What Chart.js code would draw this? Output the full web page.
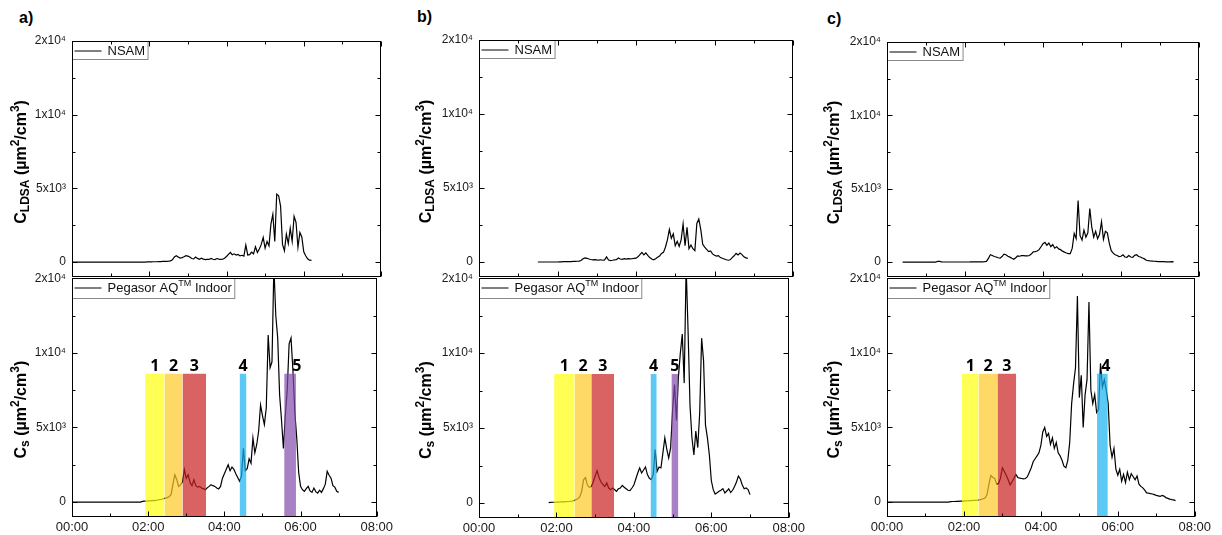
<!DOCTYPE html>
<html>
<head>
<meta charset="utf-8">
<script src="https://cdn.jsdelivr.net/npm/chart.js@4.4.0/dist/chart.umd.min.js"></script>
<style>
  body { margin: 0; background: #fff; width: 1222px; height: 535px; position: relative; overflow: hidden; }
  canvas { position: absolute; }
  .tag { position: absolute; font: bold 16px "Liberation Sans", Arial, sans-serif; line-height: 16px; color: #000; }
</style>
</head>
<body>
<div class="tag" style="left:19px;top:10px">a)</div>
<div class="tag" style="left:417px;top:9px">b)</div>
<div class="tag" style="left:827px;top:11px">c)</div>
<canvas id="aTop"></canvas><canvas id="aBot"></canvas>
<canvas id="bTop"></canvas><canvas id="bBot"></canvas>
<canvas id="cTop"></canvas><canvas id="cBot"></canvas>
<script>
// one value every 3 minutes (hours), values in units of 100 µm²/cm³
const step = 0.05;

// a) NSAM
const aTopStart = 0;
const aTopV = [0,0,0,0,0,0,0,0,0,0, 0,0,0,0,0,0,0,0,0,0, 0,0,0,0,0,0,0,0,0,0, 0,0,0,0,0,0,0,0,0,
  0.1,0.1,0.1,0.2,0.2,0.2,0.3,0.3,0.4,0.4,0.5,0.6,0.8,1.5,3.5,4.3,3.5,2.7,3.0,3.6,4.3,4.0,3.4,2.4,2.2,3.4,
  2.5,1.9,2.6,2.0,1.7,1.8,1.8,2.5,1.9,1.7,2.4,2.0,1.8,1.9,2.6,3.8,5.2,6.5,5.0,5.6,4.8,5.2,4.2,4.6,4.0,11.5,
  4.8,5.0,6.8,5.6,10.4,6.5,8.8,12.0,16.7,9.5,14.0,11.0,25.7,32.4,14.0,46.0,45.0,38.0,12.0,7.6,19.0,12.5,23.0,
  14.0,31.0,27.0,10.0,20.0,17.0,7.0,4.3,2.2,1.3,1.2];
// a) Pegasor
const aBotStart = 0;
const aBotV = [0,0,0,0,0,0,0,0,0,0, 0,0,0,0,0,0,0,0,0,0, 0,0,0,0,0,0,0,0,0,0, 0,0,0,0,0,0,0,
  0.5,0.6,0.7,0.8,0.8,1.0,1.0,1.2,1.4,1.6,1.8,2.2,2.6,3.0,3.6,5.0,12.0,18.4,15.0,10.5,11.5,13.5,21.8,16.0,18.4,
  13.0,11.0,15.0,11.0,10.0,10.5,9.4,9.0,8.3,9.5,10.5,11.7,11.0,10.5,9.4,8.8,10.5,16.0,19.0,22.0,25.0,21.0,23.5,
  22.0,19.0,16.5,14.0,17.5,36.0,21.0,22.5,29.0,26.0,43.0,33.0,38.6,47.6,65.0,58.0,52.0,63.0,112.0,90.0,94.0,
  158.0,125.0,110.0,72.0,55.0,36.0,58.0,75.0,106.0,110.0,88.0,60.0,43.0,20.0,10.5,8.3,7.2,9.0,10.5,7.5,6.5,
  9.4,7.0,6.0,8.0,6.5,9.0,12.0,20.6,18.0,16.0,11.0,10.0,7.2,6.5];

// b) NSAM
const bTopStart = 1.5;
const bTopV = [0,0,0,0,0,0,0,0,0,0,0,
  0.1,0.1,0.2,0.2,0.3,0.3,0.3,0.4,0.4,0.5,0.6,1.0,2.2,2.8,2.5,2.0,1.7,1.5,1.6,1.4,1.3,1.5,1.2,1.4,3.4,1.3,1.0,
  1.2,1.5,1.6,2.7,2.0,1.8,2.2,1.9,2.3,2.1,2.2,2.4,2.6,3.5,5.0,6.5,4.8,6.2,4.5,3.0,2.0,1.5,2.2,3.2,4.0,5.8,6.5,
  10.0,15.0,22.0,16.0,19.0,11.0,14.0,10.5,15.0,25.7,11.0,23.4,9.0,11.5,9.0,7.7,26.0,29.0,22.0,12.0,10.0,8.5,
  7.0,7.5,5.5,4.5,4.0,4.3,3.0,2.5,2.0,1.5,1.2,1.5,3.0,4.2,5.8,4.8,6.0,5.0,3.5,2.8,2.5];
// b) Pegasor
const bBotStart = 1.8;
const bBotV = [0.3,0.4,0.5,0.5,0.6,0.6,0.7,0.7,0.8,0.9,1.0,1.1,1.3,1.6,2.2,2.8,4.0,7.5,15.5,17.0,12.0,10.5,
  11.0,14.0,18.0,21.6,17.0,14.0,12.5,11.0,13.4,10.0,8.9,10.0,9.0,7.8,9.5,10.0,11.8,10.5,9.5,8.5,8.3,10.0,12.0,
  16.0,20.0,23.4,20.0,22.0,24.0,19.0,16.5,15.6,19.0,35.7,21.0,24.0,23.4,33.5,43.5,36.0,30.0,37.0,62.0,79.0,
  55.0,84.0,100.0,112.7,80.0,158.0,115.0,65.0,43.5,32.0,48.0,37.0,60.0,110.0,95.0,52.0,43.5,32.0,15.0,8.9,
  6.0,6.8,7.8,8.5,9.6,6.7,8.0,9.5,7.0,8.5,11.0,14.0,17.9,16.0,12.0,9.5,10.0,9.0,5.6];

// c) NSAM
const cTopStart = 0.4;
const cTopV = [0,0,0,0,0,0,0,0,0,0,0,0,0,0,0,0,0,0,
  0.6,0.5,0.2,0.1,0.1,0.1,0.1,0.1,0.1,0.1,0.1,0.1,0.1,0.1,0.1,0.1,0.1,0.2,0.2,0.2,0.2,0.2,0.2,0.2,
  0.3,0.5,2.5,5.0,4.5,3.8,3.5,3.0,2.7,3.8,5.4,5.0,4.0,3.4,2.6,2.0,3.0,4.2,4.0,4.4,4.4,4.2,4.3,4.5,5.5,7.0,
  7.2,7.6,8.5,10.5,12.5,13.5,11.5,13.0,10.5,12.0,9.5,10.5,9.0,8.5,7.5,6.8,6.2,5.8,5.8,9.5,19.6,16.0,42.0,
  18.0,15.0,21.8,17.0,20.0,36.5,24.0,17.0,21.0,16.0,19.0,27.5,15.5,21.0,20.0,12.8,7.8,6.1,5.0,4.5,3.8,4.0,
  5.0,3.5,3.3,4.5,3.5,3.2,4.6,5.0,3.8,3.5,2.8,2.2,1.3,1.0,0.8,0.7,0.6,0.5,0.4,0.4,0.3,0.3,0.2,0.2,0.2,0.3,0.2];
// c) Pegasor
const cBotStart = 0;
const cBotV = [0,0,0,0,0,0,0,0,0,0, 0,0,0,0,0,0,0,0,0,0, 0,0,0,0,0,0,0,0,0,0, 0,0,0,
  0.3,0.4,0.4,0.5,0.5,0.6,0.6,0.7,0.8,0.9,1.0,1.0,1.1,1.2,1.3,1.5,1.8,2.2,2.7,5.0,12.0,17.8,16.5,16.0,12.0,
  12.5,16.0,23.0,20.5,18.0,15.0,11.5,13.5,16.0,18.5,16.5,16.0,15.8,15.6,15.8,17.0,20.0,23.0,27.0,29.0,31.0,
  33.0,38.0,47.0,50.0,44.0,46.0,38.7,43.0,36.0,40.0,33.0,31.0,28.0,24.0,23.0,28.0,40.0,66.0,79.0,90.0,138.0,
  70.0,85.0,50.0,72.0,82.0,134.0,75.0,66.0,72.0,60.0,62.0,93.0,77.0,82.0,75.0,66.0,38.0,30.0,36.0,22.0,18.0,
  22.0,14.0,18.5,13.0,20.0,15.0,19.0,17.0,15.0,17.5,12.0,10.5,9.5,8.0,6.2,6.0,5.6,5.4,5.0,4.5,4.2,3.8,4.5,
  4.0,3.0,2.5,2.0,1.6,1.5,1.0];

// marked periods: [from h, to h, number, label at h (optional)]
const aBoxes = [[1.92, 2.43, 1], [2.43, 2.90, 2], [2.90, 3.52, 3], [4.40, 4.58, 4], [5.57, 5.88, 5, 5.90]];
const bBoxes = [[1.94, 2.47, 1], [2.47, 2.90, 2], [2.90, 3.49, 3], [4.43, 4.59, 4], [4.97, 5.15, 5]];
const cBoxes = [[1.95, 2.38, 1], [2.38, 2.87, 2], [2.87, 3.36, 3], [5.46, 5.74, 4, 5.69]];
const boxTop = 8600;

const xTickHours = [0, 1, 2, 3, 4, 5, 6, 7, 8];
const xTickLabels = ['00:00', '', '02:00', '', '04:00', '', '06:00', '', '08:00'];
const yTickValues = [0, 2500, 5000, 7500, 10000, 12500, 15000];
const yTickLabels = ['0', '', '5x10³', '', '1x10⁴', '', '2x10⁴'];

const boxColors = {
  1: 'rgba(255,255,12,0.7)',
  2: 'rgba(255,201,36,0.7)',
  3: 'rgba(201,31,31,0.7)',
  4: 'rgba(21,176,241,0.7)',
  5: 'rgba(131,74,171,0.7)'
};

const FONT = '"Liberation Sans", Arial, sans-serif';

function richWidth(ctx, parts, size) {
  let w = 0;
  parts.forEach(p => {
    ctx.font = (p.bold ? 'bold ' : '') + (p.s ? Math.round(size * 0.72) : size) + 'px ' + FONT;
    w += ctx.measureText(p.t).width;
  });
  return w;
}
function drawRich(ctx, parts, x, y, size) {
  parts.forEach(p => {
    const small = p.s ? Math.round(size * 0.72) : size;
    ctx.font = (p.bold ? 'bold ' : '') + small + 'px ' + FONT;
    const dy = p.s === 'sup' ? -size * 0.38 : p.s === 'sub' ? size * 0.25 : 0;
    ctx.fillText(p.t, x, y + dy);
    x += ctx.measureText(p.t).width;
  });
}

const frame = {
  id: 'frame',
  afterDatasetsDraw(chart, args, o) {
    const {ctx, chartArea: a, scales: {x, y}} = chart;
    const L = Math.round(a.left) + 0.5, R = Math.round(a.right) - 0.5;
    const T = Math.round(a.top) + 0.5, B = Math.round(a.bottom) - 0.5;
    ctx.save();

    // numbers over the marked periods
    ctx.fillStyle = '#000';
    ctx.font = 'bold 16px "Open Sans", Lato, sans-serif';
    ctx.textAlign = 'center';
    ctx.textBaseline = 'alphabetic';
    (o.boxes || []).forEach(b => {
      const cx = x.getPixelForValue(b[3] !== undefined ? b[3] : (b[0] + b[1]) / 2);
      ctx.fillText(String(b[2]), cx, y.getPixelForValue(boxTop) - 3);
    });

    // legend box
    ctx.textAlign = 'left';
    ctx.textBaseline = 'middle';
    const tw = richWidth(ctx, o.legend, 13);
    const bh = o.legend.some(p => p.s) ? 20 : 18;
    ctx.fillStyle = '#fff';
    ctx.fillRect(L, T, tw + 38, bh);
    ctx.strokeStyle = '#8a8a8a';
    ctx.lineWidth = 1;
    ctx.strokeRect(L, T, tw + 38, bh);
    ctx.strokeStyle = '#000';
    ctx.beginPath();
    ctx.moveTo(L + 2, T + 9.5);
    ctx.lineTo(L + 29, T + 9.5);
    ctx.stroke();
    ctx.fillStyle = '#111';
    drawRich(ctx, o.legend, L + 35, T + 10, 13);

    // frame and inward ticks
    ctx.strokeStyle = '#000';
    ctx.strokeRect(L, T, R - L, B - T);
    ctx.beginPath();
    xTickHours.forEach((h, i) => {
      const px = Math.round(x.getPixelForValue(h)) + 0.5;
      const len = xTickLabels[i] ? 5 : 3;
      ctx.moveTo(px, B); ctx.lineTo(px, B - len);
      if (o.mirrorX) { ctx.moveTo(px, T); ctx.lineTo(px, T + len); }
    });
    yTickValues.forEach((v, i) => {
      const py = Math.round(y.getPixelForValue(v)) + 0.5;
      const len = yTickLabels[i] ? 5 : 3;
      ctx.moveTo(L, py); ctx.lineTo(L + len, py);
      ctx.moveTo(R, py); ctx.lineTo(R - len, py);
    });
    ctx.stroke();

    // y axis title
    ctx.fillStyle = '#000';
    ctx.translate(o.titleX, (a.top + a.bottom) / 2 + o.titleDy);
    ctx.rotate(-Math.PI / 2);
    const ttw = richWidth(ctx, o.title, 16);
    drawRich(ctx, o.title, -ttw / 2, 0, 16);
    ctx.restore();
  }
};

const titleTop = [
  {t: 'C', bold: 1}, {t: 'LDSA', s: 'sub', bold: 1}, {t: ' (µm', bold: 1}, {t: '2', s: 'sup', bold: 1},
  {t: '/cm', bold: 1}, {t: '3', s: 'sup', bold: 1}, {t: ')', bold: 1}
];
const titleBot = [
  {t: 'C', bold: 1}, {t: 's', s: 'sub', bold: 1}, {t: ' (µm', bold: 1}, {t: '2', s: 'sup', bold: 1},
  {t: '/cm', bold: 1}, {t: '3', s: 'sup', bold: 1}, {t: ')', bold: 1}
];
const legendTop = [{t: 'NSAM'}];
const legendBot = [{t: 'Pegasor AQ'}, {t: 'TM', s: 'sup'}, {t: ' Indoor'}];

function toPoints(start, values) {
  return values.map((v, i) => ({x: start + i * step, y: v * 100}));
}

function makeChart(id, p, isTop, start, values, boxes) {
  const el = document.getElementById(id);
  const cLeft = p.left - 72;
  const cTop = isTop ? 0 : 265;
  const cH = isTop ? 290 : 270;
  const W = p.right - cLeft + 15;
  el.width = W; el.height = cH;
  el.style.left = cLeft + 'px'; el.style.top = cTop + 'px';
  el.style.width = W + 'px'; el.style.height = cH + 'px';

  const datasets = [{
    data: toPoints(start, values),
    borderColor: '#000', borderWidth: 1.2, pointRadius: 0, tension: 0, fill: false, order: 1
  }];
  (boxes || []).forEach(b => datasets.push({
    data: [{x: b[0], y: boxTop}, {x: b[1], y: boxTop}],
    borderColor: 'transparent', borderWidth: 0, pointRadius: 0,
    fill: 'start', backgroundColor: boxColors[b[2]], order: 0
  }));

  new Chart(el, {
    type: 'line',
    data: {datasets},
    options: {
      responsive: false,
      animation: false,
      events: [],
      layout: {padding: {left: 0, right: 15, top: isTop ? p.top : 278 - cTop, bottom: isTop ? cH - p.mid : 0}},
      scales: {
        x: {
          type: 'linear', min: 0, max: 8, display: !isTop,
          afterBuildTicks: s => { s.ticks = xTickHours.map(v => ({value: v})); },
          afterFit: s => { if (!isTop) s.height = 535 - p.bottom; },
          grid: {display: false, drawTicks: false},
          border: {display: false},
          ticks: {
            autoSkip: false, maxRotation: 0, padding: 3, color: '#1a1a1a',
            font: {family: FONT, size: 13},
            callback: (v, i) => xTickLabels[i]
          }
        },
        y: {
          type: 'linear', min: -1000, max: 15000,
          afterBuildTicks: s => { s.ticks = yTickValues.map(v => ({value: v})); },
          afterFit: s => { s.width = 72; },
          grid: {display: false, drawTicks: false},
          border: {display: false},
          ticks: {
            autoSkip: false, padding: 6, color: '#1a1a1a',
            font: {family: FONT, size: 12},
            callback: (v, i) => yTickLabels[i]
          }
        }
      },
      plugins: {
        legend: {display: false},
        tooltip: {enabled: false},
        frame: {
          mirrorX: isTop,
          boxes: boxes,
          legend: isTop ? legendTop : legendBot,
          title: isTop ? titleTop : titleBot,
          titleX: p.titleX,
          titleDy: isTop ? 3 : 12
        }
      }
    },
    plugins: [frame]
  });
}

const layout = {
  a: {left: 72, right: 381, top: 41, mid: 277, bottom: 517, titleX: 22},
  b: {left: 479, right: 793, top: 40, mid: 277, bottom: 518, titleX: 20},
  c: {left: 887, right: 1199, top: 42, mid: 277, bottom: 517, titleX: 20}
};

makeChart('aTop', layout.a, true, aTopStart, aTopV);
makeChart('aBot', layout.a, false, aBotStart, aBotV, aBoxes);
makeChart('bTop', layout.b, true, bTopStart, bTopV);
makeChart('bBot', layout.b, false, bBotStart, bBotV, bBoxes);
makeChart('cTop', layout.c, true, cTopStart, cTopV);
makeChart('cBot', layout.c, false, cBotStart, cBotV, cBoxes);
</script>
</body>
</html>
